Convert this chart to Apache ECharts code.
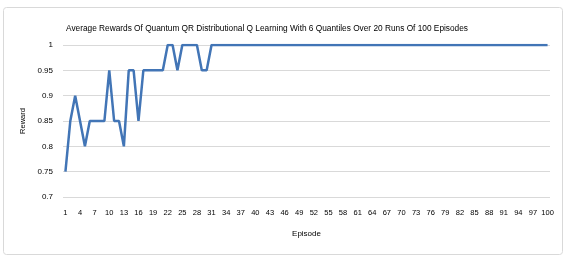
<!DOCTYPE html>
<html>
<head>
<meta charset="utf-8">
<script src="https://cdn.jsdelivr.net/npm/echarts@6/dist/echarts.min.js"></script>
<style>
  html, body { margin: 0; padding: 0; background: #fff; }
  #chart { width: 567px; height: 257px; }
</style>
</head>
<body>
<div id="chart"></div>
<script>
// episodes 1..100
const episodes = [];
for (let i = 1; i <= 100; i++) episodes.push(String(i));

// average reward per episode
const rewardsStart = [
  0.75, 0.85, 0.9, 0.85, 0.8, 0.85, 0.85, 0.85, 0.85, 0.95,
  0.85, 0.85, 0.8, 0.95, 0.95, 0.85, 0.95, 0.95, 0.95, 0.95,
  0.95, 1, 1, 0.95, 1, 1, 1, 1, 0.95, 0.95
];
const rewardsRest = [
  1, 1, 1, 1, 1, 1, 1, 1, 1, 1, 1, 1, 1, 1, 1, 1, 1, 1, 1, 1,
  1, 1, 1, 1, 1, 1, 1, 1, 1, 1, 1, 1, 1, 1, 1, 1, 1, 1, 1, 1,
  1, 1, 1, 1, 1, 1, 1, 1, 1, 1, 1, 1, 1, 1, 1, 1, 1, 1, 1, 1,
  1, 1, 1, 1, 1, 1, 1, 1, 1, 1
];
const rewards = rewardsStart.concat(rewardsRest);

const font = "'Liberation Sans', 'Noto Sans', sans-serif";

const chart = echarts.init(document.getElementById("chart"));
chart.setOption({
  animation: false,
  textStyle: { fontFamily: font },
  title: {
    text: "Average Rewards Of Quantum QR Distributional Q Learning With 6 Quantiles Over 20 Runs Of 100 Episodes",
    left: 61,
    top: 20,
    textStyle: { fontSize: 8.3, fontWeight: "normal", color: "#000", fontFamily: font },
  },
  graphic: [
    {
      type: "rect",
      shape: { x: 3.5, y: 7.5, width: 559, height: 247, r: 3 },
      style: { fill: "none", stroke: "#d9d9d9", lineWidth: 1 },
      silent: true,
    },
  ],
  grid: { left: 63, right: 17, top: 45, bottom: 60 },
  xAxis: {
    type: "category",
    data: episodes,
    boundaryGap: true,
    name: "Episode",
    nameLocation: "middle",
    nameGap: 33,
    nameTextStyle: { fontSize: 8, color: "#000" },
    axisLine: { show: false },
    axisTick: { show: false },
    axisLabel: { interval: 2, fontSize: 7.5, color: "#000", margin: 12 },
  },
  yAxis: {
    type: "value",
    min: 0.7,
    max: 1,
    interval: 0.05,
    name: "Reward",
    nameLocation: "middle",
    nameGap: 22,
    nameTextStyle: { fontSize: 7.5, color: "#000" },
    axisLine: { show: false },
    axisTick: { show: false },
    axisLabel: { fontSize: 8, color: "#000", margin: 10 },
    splitLine: { lineStyle: { color: "#d9d9d9", width: 1 } },
  },
  series: [
    {
      type: "line",
      data: rewards,
      symbol: "none",
      lineStyle: { color: "#4275b6", width: 2.5 },
    },
  ],
});
</script>
</body>
</html>
